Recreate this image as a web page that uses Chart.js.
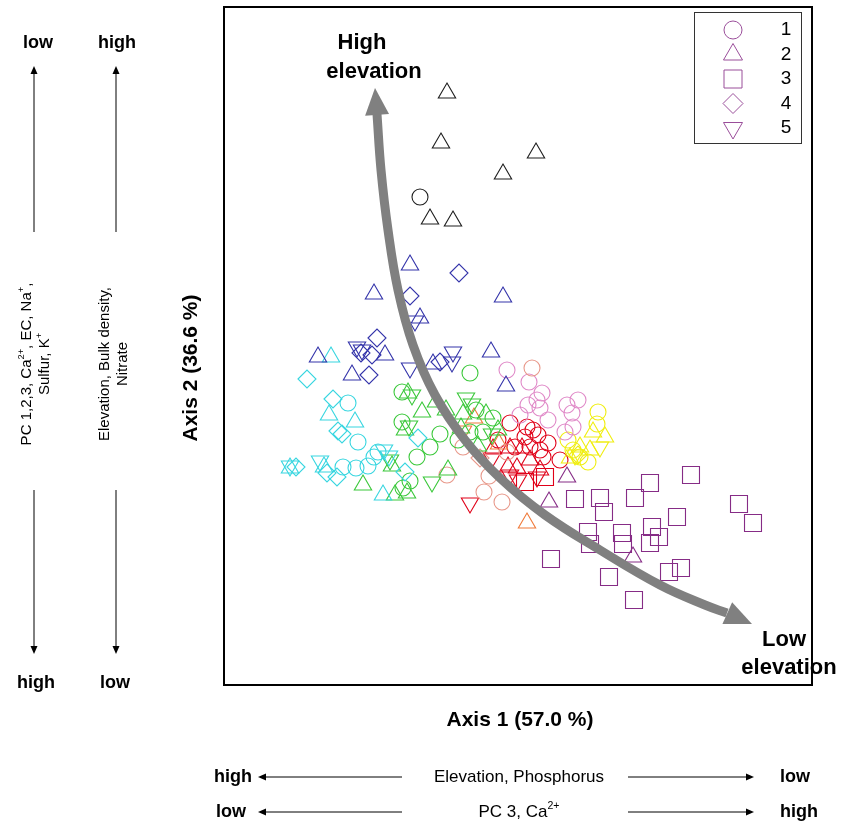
<!DOCTYPE html>
<html>
<head>
<meta charset="utf-8">
<script src="https://cdn.jsdelivr.net/npm/chart.js@4.4.1/dist/chart.umd.min.js"></script>
<title>NMS ordination of soil samples</title>
<style>
    body { margin: 0; background: #fff; }
    #wrap { width: 842px; height: 825px; position: relative; }
</style>
</head>
<body>
<div id="wrap"><canvas id="nms"></canvas></div>

<script>
// site scores on NMS axis 1 / axis 2, third value = soil group (1..5)
var blackPts = [[-0.72,2.53,2],[-0.78,2.03,2],[0.17,1.93,2],[-0.16,1.72,2],[-0.89,1.27,2],[-0.66,1.25,2],[-0.99,1.49,1]];
var bluePts = [[-1.09,0.81,2],[-0.60,0.73,4],[-1.45,0.52,2],[-1.09,0.50,4],[-0.16,0.49,2],[-0.99,0.28,2],[-1.04,0.25,5],
    [-2.01,-0.11,2],[-1.62,-0.01,5],[-1.57,-0.04,5],[-1.42,0.08,4],[-1.47,-0.09,4],[-1.58,-0.07,4],[-1.34,-0.09,2],
    [-1.50,-0.29,4],[-1.67,-0.29,2],[-1.09,-0.22,5],[-0.86,-0.18,2],[-0.79,-0.16,4],[-0.66,-0.06,5],[-0.67,-0.16,5],
    [-0.28,-0.06,2],[-0.13,-0.40,2]];
var cyanPts = [[-1.88,-0.11,2],[-2.12,-0.33,4],[-1.86,-0.53,4],[-1.71,-0.57,1],[-1.90,-0.69,2],[-1.64,-0.76,2],[-1.81,-0.85,4],
    [-1.77,-0.88,4],[-1.61,-0.96,1],[-2.29,-1.20,5],[-2.29,-1.22,2],[-2.23,-1.21,4],[-1.99,-1.15,5],[-1.95,-1.21,2],
    [-1.92,-1.27,4],[-1.82,-1.31,4],[-1.76,-1.21,1],[-1.63,-1.22,1],[-1.51,-1.20,1],[-1.45,-1.11,1],[-1.41,-1.06,1],
    [-1.35,-1.04,5],[-1.30,-1.10,5],[-1.36,-1.49,2],[-1.14,-1.26,4],[-1.01,-0.92,4]];
var greenPts = [[-0.49,-0.27,1],[-1.17,-0.46,1],[-1.11,-0.47,2],[-1.07,-0.49,5],[-0.97,-0.66,2],[-1.17,-0.76,1],[-1.14,-0.84,2],
    [-1.10,-0.80,5],[-1.02,-1.11,1],[-0.89,-1.01,1],[-0.79,-0.88,1],[-0.83,-0.56,2],[-0.53,-0.52,5],[-0.47,-0.58,5],
    [-0.73,-0.64,2],[-0.56,-0.68,2],[-0.33,-0.68,2],[-0.26,-0.72,1],[-0.49,-0.86,1],[-0.36,-0.86,1],[-0.27,-0.88,5],
    [-0.21,-0.84,2],[-0.61,-0.94,1],[-0.58,-0.82,2],[-0.87,-1.36,5],[-0.71,-1.24,2],[-1.56,-1.39,2],[-1.24,-1.49,2],
    [-1.12,-1.47,2],[-1.16,-1.42,1],[-1.09,-1.35,1],[-1.29,-1.14,5],[-1.27,-1.20,2],[-0.41,-1.00,2],[-0.43,-0.64,1]];
var salmonPts = [[-0.72,-1.29,1],[-0.17,-1.56,1],[-0.35,-1.46,1],[-0.56,-1.01,1],[-0.12,-1.06,1],[0.13,-0.22,1],
    [-0.39,-1.12,4],[-0.30,-1.30,1]];
var orangePts = [[0.08,-1.77,2],[-0.56,-0.85,5],[-0.45,-0.72,2],[-0.20,-0.98,2]];
var redPts = [[-0.49,-1.57,5],[-0.09,-0.77,1],[0.08,-0.81,1],[0.14,-0.84,1],[0.19,-0.89,1],[0.06,-0.91,1],[0.11,-1.01,1],
    [0.21,-1.04,1],[0.24,-1.11,1],[-0.04,-1.01,1],[0.41,-1.14,1],[0.29,-0.97,1],[-0.09,-1.02,2],[0.03,-1.02,2],
    [-0.02,-1.22,2],[-0.11,-1.21,2],[0.21,-1.24,2],[0.11,-1.14,2],[0.06,-1.36,3],[0.26,-1.31,3],[-0.09,-1.29,5],
    [-0.01,-1.34,5],[0.18,-1.31,5],[-0.27,-1.12,5],[-0.26,-1.03,2],[-0.21,-0.94,1]];
var pinkPts = [[-0.12,-0.24,1],[0.10,-0.36,1],[0.23,-0.47,1],[0.18,-0.54,1],[0.21,-0.62,1],[0.29,-0.74,1],[0.48,-0.59,1],
    [0.59,-0.54,1],[0.53,-0.67,1],[0.54,-0.81,1],[0.46,-0.86,1],[0.09,-0.59,1],[0.01,-0.69,1]];
var yellowPts = [[0.79,-0.66,1],[0.78,-0.78,1],[0.86,-0.91,2],[0.74,-0.86,2],[0.54,-1.04,1],[0.61,-1.11,1],[0.71,-1.04,2],
    [0.81,-1.01,5],[0.49,-0.94,1],[0.61,-1.01,2],[0.56,-1.09,5],[0.69,-1.16,1],[0.59,-1.09,4],[0.51,-1.12,2]];
var purplePts = [[1.72,-1.29,3],[1.31,-1.37,3],[1.16,-1.52,3],[0.81,-1.52,3],[0.56,-1.53,3],[0.85,-1.66,3],[1.58,-1.71,3],
    [1.33,-1.81,3],[1.40,-1.91,3],[1.31,-1.97,3],[1.03,-1.87,3],[1.04,-1.98,3],[0.69,-1.86,3],[0.71,-1.98,3],
    [0.32,-2.13,3],[2.20,-1.58,3],[2.34,-1.77,3],[0.90,-2.31,3],[1.50,-2.26,3],[1.62,-2.22,3],[1.15,-2.54,3],
    [0.48,-1.31,2],[0.30,-1.56,2],[1.14,-2.11,2]];

// elevation gradient drawn over the ordination (first / last entries are the arrow tips)
var arrowPath = [[-1.44,2.58],[-1.42,2.32],[-1.38,1.76],[-1.31,1.16],[-1.21,0.56],[-1.06,0.01],[-0.84,-0.49],
    [-0.54,-0.94],[-0.19,-1.32],[0.26,-1.69],[0.81,-2.04],[1.41,-2.39],[1.86,-2.59],[2.08,-2.67],[2.33,-2.78]];

var legendLabels = ['1', '2', '3', '4', '5'];

var groups = [
    { pts: blackPts,  color: '#1e1e1e' },
    { pts: bluePts,   color: '#3434aa' },
    { pts: cyanPts,   color: '#38d6e0' },
    { pts: greenPts,  color: '#3ac83a' },
    { pts: salmonPts, color: '#e8988a' },
    { pts: orangePts, color: '#f07a3a' },
    { pts: pinkPts,   color: '#e08ac8' },
    { pts: yellowPts, color: '#f0ee10' },
    { pts: redPts,    color: '#e00018' },
    { pts: purplePts, color: '#862c86' }
];

var shapeStyles = {
    1: { style: 'circle',   radius: 8,  rotation: 0 },
    2: { style: 'triangle', radius: 10, rotation: 0 },
    3: { style: 'rect',     radius: 12, rotation: 0 },
    4: { style: 'rectRot',  radius: 9,  rotation: 0 },
    5: { style: 'triangle', radius: 10, rotation: 180 }
};

var datasets = [];
groups.forEach(function (g) {
    [1, 2, 3, 4, 5].forEach(function (s) {
        var pts = g.pts.filter(function (p) { return p[2] === s; })
                       .map(function (p) { return { x: p[0], y: p[1] }; });
        if (!pts.length) return;
        var st = shapeStyles[s];
        datasets.push({
            type: 'scatter',
            data: pts,
            pointStyle: st.style,
            pointRadius: st.radius,
            pointHoverRadius: st.radius,
            pointRotation: st.rotation,
            borderColor: g.color,
            backgroundColor: 'rgba(0,0,0,0)',
            pointBorderWidth: 1.1,
            order: 1
        });
    });
});

// shaft of the gradient arrow, heads are added by the plugin below
datasets.push({
    type: 'line',
    data: arrowPath.slice(1, -1).map(function (p) { return { x: p[0], y: p[1] }; }),
    borderColor: '#808080',
    borderWidth: 9,
    pointRadius: 0,
    tension: 0.4,
    fill: false,
    order: 0
});

var FONT = "Arial, 'Liberation Sans', sans-serif";

function drawRich(ctx, parts, x, y, size, bold) {
    // parts: [text, isSuperscript]; centred on x
    var w = 0;
    parts.forEach(function (p) {
        ctx.font = (bold ? 'bold ' : '') + (p[1] ? size * 0.62 : size) + 'px ' + FONT;
        w += ctx.measureText(p[0]).width;
    });
    var cx = x - w / 2;
    ctx.textAlign = 'left';
    ctx.textBaseline = 'middle';
    parts.forEach(function (p) {
        ctx.font = (bold ? 'bold ' : '') + (p[1] ? size * 0.62 : size) + 'px ' + FONT;
        ctx.fillText(p[0], cx, p[1] ? y - size * 0.35 : y);
        cx += ctx.measureText(p[0]).width;
    });
}

function thinArrow(ctx, x1, y1, x2, y2) {
    var a = Math.atan2(y2 - y1, x2 - x1);
    ctx.beginPath();
    ctx.moveTo(x1, y1);
    ctx.lineTo(x2 - Math.cos(a) * 5, y2 - Math.sin(a) * 5);
    ctx.lineWidth = 1;
    ctx.strokeStyle = '#000';
    ctx.stroke();
    ctx.beginPath();
    ctx.moveTo(x2, y2);
    ctx.lineTo(x2 - Math.cos(a) * 8 + Math.sin(a) * 3.5, y2 - Math.sin(a) * 8 - Math.cos(a) * 3.5);
    ctx.lineTo(x2 - Math.cos(a) * 8 - Math.sin(a) * 3.5, y2 - Math.sin(a) * 8 + Math.cos(a) * 3.5);
    ctx.closePath();
    ctx.fillStyle = '#000';
    ctx.fill();
}

function legendSymbol(ctx, shape, x, y) {
    ctx.beginPath();
    if (shape === 1) {
        ctx.arc(x, y, 9, 0, Math.PI * 2);
    } else if (shape === 2 || shape === 5) {
        var r = 11, d = shape === 2 ? 1 : -1;
        ctx.moveTo(x, y - d * r);
        ctx.lineTo(x + r * 0.866, y + d * r / 2);
        ctx.lineTo(x - r * 0.866, y + d * r / 2);
        ctx.closePath();
    } else if (shape === 3) {
        ctx.rect(x - 9, y - 9, 18, 18);
    } else {
        ctx.moveTo(x, y - 10); ctx.lineTo(x + 10, y); ctx.lineTo(x, y + 10); ctx.lineTo(x - 10, y);
        ctx.closePath();
    }
    ctx.stroke();
}

var decor = {
    id: 'decor',
    afterDatasetsDraw: function (chart) {
        var ctx = chart.ctx, xs = chart.scales.x, ys = chart.scales.y;
        function px(p) { return [xs.getPixelForValue(p[0]), ys.getPixelForValue(p[1])]; }
        function head(tipP, baseP) {
            var t = px(tipP), b = px(baseP);
            var a = Math.atan2(t[1] - b[1], t[0] - b[0]);
            var len = 27, hw = 12;
            var bx = t[0] - Math.cos(a) * len, by = t[1] - Math.sin(a) * len;
            ctx.beginPath();
            ctx.moveTo(t[0], t[1]);
            ctx.lineTo(bx + Math.sin(a) * hw, by - Math.cos(a) * hw);
            ctx.lineTo(bx - Math.sin(a) * hw, by + Math.cos(a) * hw);
            ctx.closePath();
            ctx.fillStyle = '#808080';
            ctx.fill();
        }
        ctx.save();
        head(arrowPath[0], arrowPath[1]);
        var n = arrowPath.length;
        head(arrowPath[n - 1], arrowPath[n - 2]);
        ctx.restore();
    },
    afterDraw: function (chart) {
        var ctx = chart.ctx, ca = chart.chartArea;
        ctx.save();
        ctx.fillStyle = '#000';

        // plot frame
        ctx.lineWidth = 2;
        ctx.strokeStyle = '#000';
        ctx.strokeRect(ca.left, ca.top, ca.right - ca.left, ca.bottom - ca.top);

        // legend
        ctx.lineWidth = 1;
        ctx.strokeStyle = '#333';
        ctx.strokeRect(694.5, 12.5, 107, 131);
        ctx.strokeStyle = '#9a4e9a';
        legendLabels.forEach(function (lab, i) {
            var y = 30 + i * 24.5;
            legendSymbol(ctx, i + 1, 733, y);
            ctx.font = '19px ' + FONT;
            ctx.textAlign = 'center';
            ctx.textBaseline = 'middle';
            ctx.fillStyle = '#000';
            ctx.fillText(lab, 786, y);
        });

        // gradient end labels
        ctx.font = 'bold 22px ' + FONT;
        ctx.textAlign = 'center';
        ctx.textBaseline = 'middle';
        ctx.fillText('High', 362, 43);
        ctx.fillText('elevation', 374, 72);
        ctx.fillText('Low', 784, 640);
        ctx.fillText('elevation', 789, 668);

        // axis titles
        ctx.font = 'bold 21px ' + FONT;
        ctx.fillText('Axis 1 (57.0 %)', 520, 720);
        ctx.save();
        ctx.translate(191, 368);
        ctx.rotate(-Math.PI / 2);
        ctx.fillText('Axis 2 (36.6 %)', 0, 0);
        ctx.restore();

        // left side: variables correlated with axis 2
        ctx.font = 'bold 18px ' + FONT;
        ctx.fillText('low', 38, 43);
        ctx.fillText('high', 117, 43);
        ctx.fillText('high', 36, 683);
        ctx.fillText('low', 115, 683);
        thinArrow(ctx, 34, 232, 34, 66);
        thinArrow(ctx, 116, 232, 116, 66);
        thinArrow(ctx, 34, 490, 34, 654);
        thinArrow(ctx, 116, 490, 116, 654);

        ctx.save();
        ctx.translate(0, 364);
        ctx.rotate(-Math.PI / 2);
        ctx.fillStyle = '#000';
        drawRich(ctx, [['PC 1,2,3, Ca', 0], ['2+', 1], [', EC, Na', 0], ['+', 1], [',', 0]], 0, 27, 15, false);
        drawRich(ctx, [['Sulfur, K', 0], ['+', 1]], 0, 45, 15, false);
        drawRich(ctx, [['Elevation, Bulk density,', 0]], 0, 105, 15, false);
        drawRich(ctx, [['Nitrate', 0]], 0, 123, 15, false);
        ctx.restore();

        // bottom: variables correlated with axis 1
        ctx.font = 'bold 18px ' + FONT;
        ctx.textAlign = 'center';
        ctx.textBaseline = 'middle';
        ctx.fillText('high', 233, 777);
        ctx.fillText('low', 795, 777);
        ctx.fillText('low', 231, 812);
        ctx.fillText('high', 799, 812);
        thinArrow(ctx, 402, 777, 258, 777);
        thinArrow(ctx, 628, 777, 754, 777);
        thinArrow(ctx, 402, 812, 258, 812);
        thinArrow(ctx, 628, 812, 754, 812);
        drawRich(ctx, [['Elevation, Phosphorus', 0]], 519, 777, 17, false);
        drawRich(ctx, [['PC 3, Ca', 0], ['2+', 1]], 519, 812, 17, false);

        ctx.restore();
    }
};

var ctx = document.getElementById('nms').getContext('2d');
var nmsChart = new Chart(ctx, {
    type: 'scatter',
    data: { datasets: datasets },
    options: {
        responsive: true,
        maintainAspectRatio: false,
        devicePixelRatio: 1,
        animation: false,
        layout: { autoPadding: false, padding: { left: 224, top: 7, right: 30, bottom: 140 } },
        scales: {
            x: { type: 'linear', min: -2.95, max: 2.93, display: false },
            y: { type: 'linear', min: -3.39, max: 3.39, display: false }
        },
        plugins: {
            legend: { display: false },
            tooltip: { enabled: false }
        }
    },
    plugins: [decor]
});
</script>
</body>
</html>
